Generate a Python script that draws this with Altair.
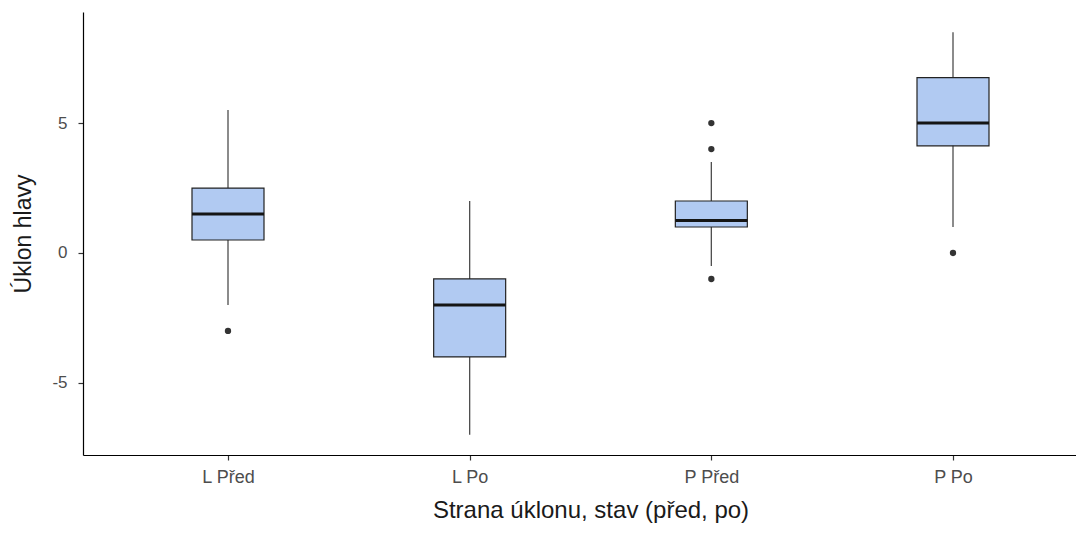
import altair as alt
import pandas as pd

categories = ["L Před", "L Po", "P Před", "P Po"]
q1 = [0.5, -4.0, 1.0, 4.125]
median = [1.5, -2.0, 1.25, 5.0]
q3 = [2.5, -1.0, 2.0, 6.75]
whisker_low = [-2.0, -7.0, -0.5, 1.0]
whisker_high = [5.5, 2.0, 3.5, 8.5]

outlier_cats = ["L Před", "P Před", "P Před", "P Před", "P Po"]
outlier_vals = [-3.0, 5.0, 4.0, -1.0, 0.0]

y_ticks = [-5, 0, 5]

box = pd.DataFrame({
    "cat": categories, "q1": q1, "median": median, "q3": q3,
    "lo": whisker_low, "hi": whisker_high,
})
out = pd.DataFrame({"cat": outlier_cats, "val": outlier_vals})

FONT = "Liberation Sans"

x_enc = alt.X(
    "cat:N", sort=categories,
    scale=alt.Scale(type="point", padding=0.6, range=[0, 1015]),
    axis=alt.Axis(title="Strana úklonu, stav (před, po)", labelAngle=0,
                  labelFontSize=18, titleFontSize=24, labelPadding=8,
                  titlePadding=12),
)
y_scale = alt.Scale(domain=[-7.775, 9.275], nice=False, zero=False)

whisk = alt.Chart(box).mark_rule(color="#4d4d4d", strokeWidth=1.3).encode(
    x=x_enc,
    y=alt.Y("lo:Q", scale=y_scale,
            axis=alt.Axis(title="Úklon hlavy", values=y_ticks,
                          labelExpr="datum.value + ''",
                          labelFontSize=17, titleFontSize=23,
                          labelPadding=11, titlePadding=16)),
    y2="hi:Q",
)
bars = alt.Chart(box).mark_bar(
    size=72, fill="#b1caf2", stroke="#222222", strokeWidth=1.2
).encode(x=x_enc, y=alt.Y("q1:Q", scale=y_scale), y2="q3:Q")
med = alt.Chart(box).mark_tick(
    size=72, thickness=3, color="#151515", opacity=1
).encode(x=x_enc, y=alt.Y("median:Q", scale=y_scale))
pts = alt.Chart(out).mark_circle(size=40, color="#333333", opacity=1).encode(
    x=x_enc, y=alt.Y("val:Q", scale=y_scale)
)

chart = (
    alt.layer(whisk, bars, med, pts)
    .properties(
        width=993, height=443,
        autosize=alt.AutoSizeParams(type="none"),
        padding={"left": 75, "top": 4, "right": 0, "bottom": 70},
    )
    .configure_view(stroke=None)
    .configure_axis(
        grid=False, domainColor="#000000", domainWidth=1.2,
        tickColor="#333333", tickWidth=1.2, tickSize=5,
        labelColor="#4d4d4d", labelFont=FONT,
        titleFont=FONT, titleColor="#1a1a1a",
        titleFontWeight="normal",
    )
)

chart.save("out.html", embed_options={"renderer": "svg", "actions": False})
